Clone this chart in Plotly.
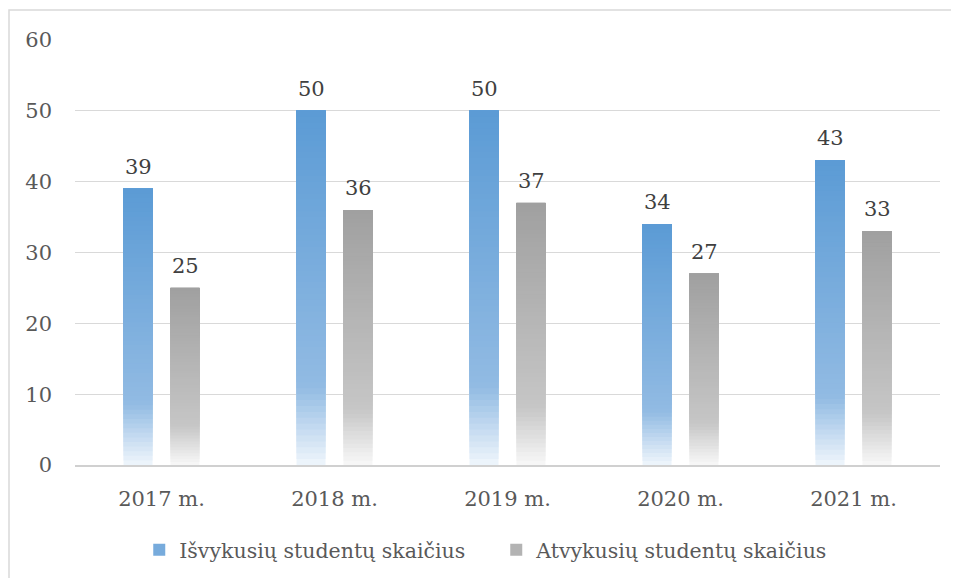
import plotly.graph_objects as go

categories = ["2017 m.", "2018 m.", "2019 m.", "2020 m.", "2021 m."]
isvykusiu = [39, 50, 50, 34, 43]
atvykusiu = [25, 36, 37, 27, 33]
series_names = ["Išvykusių studentų skaičius", "Atvykusių studentų skaičius"]
y_ticks = [0, 10, 20, 30, 40, 50, 60]

FONT = "DejaVu Serif"
N_SEG = 60

# gradient stops (fraction from bar bottom, colour)
blue_stops = [(0.0, (240, 246, 252)), (0.22, (146, 187, 227)), (1.0, (91, 155, 213))]
gray_stops = [(0.0, (248, 248, 248)), (0.22, (198, 198, 198)), (1.0, (160, 160, 160))]


def grad(stops, t):
    for (t0, c0), (t1, c1) in zip(stops[:-1], stops[1:]):
        if t0 <= t <= t1:
            f = (t - t0) / (t1 - t0)
            c = [round(a + (b - a) * f) for a, b in zip(c0, c1)]
            return "rgb(%d,%d,%d)" % tuple(c)
    return "rgb(%d,%d,%d)" % stops[-1][1]


fig = go.Figure()

series = [
    (series_names[0], isvykusiu, blue_stops, "a", -23.5),
    (series_names[1], atvykusiu, gray_stops, "b", 23.5),
]

for name, vals, stops, grp, _ in series:
    for k in range(N_SEG):
        t = (k + 0.5) / N_SEG
        # each segment runs from its own start to the bar top; later ones paint over
        fig.add_trace(go.Bar(
            x=categories,
            y=[v * (N_SEG - k) / N_SEG for v in vals],
            base=[v * k / N_SEG for v in vals],
            offsetgroup=grp,
            marker=dict(color=grad(stops, t), line=dict(width=0)),
            name=name,
            legendgroup=grp,
            showlegend=(k == int(N_SEG * 0.6)),
            hoverinfo="skip",
        ))

annotations = []
for name, vals, stops, grp, xs in series:
    for c, v in zip(categories, vals):
        annotations.append(dict(
            x=c, y=v, xref="x", yref="y", text=str(v), showarrow=False,
            xshift=xs, yshift=8, yanchor="bottom",
            font=dict(family=FONT, size=21, color="#404040"),
        ))

fig.update_layout(
    width=951, height=570,
    margin=dict(l=67, r=19, t=32, b=113),
    paper_bgcolor="white", plot_bgcolor="white",
    barmode="group", bargap=0.457, bargroupgap=0.383,
    font=dict(family=FONT, size=21, color="#595959"),
    showlegend=True,
    legend=dict(orientation="h", x=0.487, xanchor="center",
                yref="container", y=28 / 570, yanchor="middle",
                font=dict(family=FONT, size=20.5, color="#595959"),
                traceorder="normal", itemwidth=30, entrywidth=312),
    xaxis=dict(showgrid=False, showline=True, linecolor="#d0d0d0", linewidth=1.5,
               ticks="", ticklabelstandoff=14, tickfont=dict(size=21)),
    yaxis=dict(range=[0, 60], tickvals=y_ticks, showgrid=True, gridcolor="#d9d9d9",
               gridwidth=1.3, zeroline=False, showline=False, ticks="",
               ticklabelstandoff=22, tickfont=dict(size=21)),
    annotations=annotations,
    shapes=[dict(type="rect", xref="paper", yref="paper",
                 x0=-66 / 865, x1=1.2, y0=-0.5, y1=1 + 30 / 425,
                 line=dict(color="#d9d9d9", width=1.5), fillcolor="rgba(0,0,0,0)",
                 layer="below")],
)

fig.write_html("out.html")
